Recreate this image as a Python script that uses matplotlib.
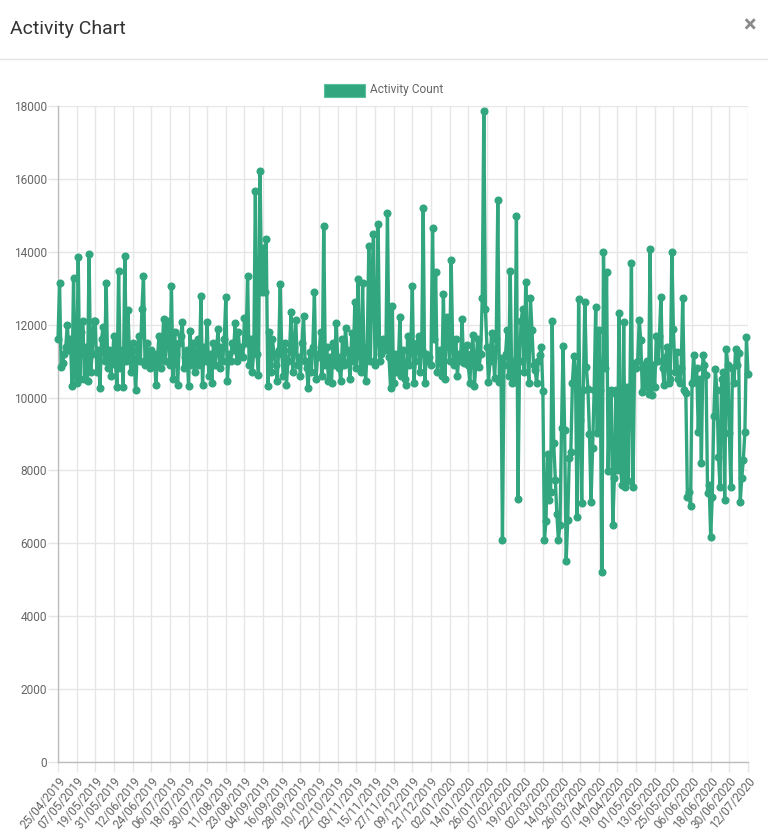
import numpy as np
import pandas as pd
import matplotlib
matplotlib.use("Agg")
import matplotlib.pyplot as plt
from matplotlib.patches import Rectangle
from matplotlib.lines import Line2D

plt.rcParams['font.family'] = ['Roboto', 'DejaVu Sans']

# daily activity counts, 25/04/2019 .. 12/07/2020
start_date = "2019-04-25"
end_date = "2020-07-12"
activity = [
    11600, 13140, 10850, 10950, 11200, 11400, 12000, 11300, 11600, 10320, 13280, 10600,
    10400, 13860, 10500, 11800, 12100, 10500, 11400, 10450, 13940, 10700, 11200, 12100,
    12100, 10700, 11300, 10260, 11600, 11940, 11000, 13140, 10800, 11300, 10600, 11100,
    11700, 10900, 10300, 13470, 10800, 11300, 10300, 13880, 11000, 12400, 11200, 10700,
    11500, 11000, 10200, 11300, 11700, 11000, 12430, 13340, 10900, 11500, 11000, 10800,
    11300, 10900, 11200, 10340, 11100, 11700, 10800, 11300, 12160, 11000, 12100, 11600,
    10900, 13060, 10500, 11800, 11200, 10350, 11500, 11700, 12070, 10800, 11100, 11300,
    10330, 11830, 10900, 11500, 10700, 11200, 11600, 10900, 12790, 10340, 11400, 11000,
    12070, 10600, 11200, 10400, 11500, 10900, 11300, 11880, 10800, 11400, 11000, 11600,
    12760, 10450, 11200, 11000, 11500, 11300, 12040, 11000, 11800, 11200, 11400, 11100,
    12190, 11500, 13340, 10900, 11600, 10700, 11300, 15680, 11200, 10620, 16230, 12900,
    14100, 12900, 14350, 10320, 11800, 10700, 11600, 11200, 10900, 10450, 11300, 13120,
    11200, 10600, 11500, 10350, 11000, 11300, 12350, 10700, 11400, 12130, 10900, 11100,
    10600, 11500, 12240, 11000, 10800, 10250, 11260, 10700, 11400, 12900, 10500, 11100,
    11200, 11810, 10600, 14720, 10900, 11400, 10450, 11100, 10400, 11500, 10900, 12040,
    11100, 10800, 10450, 11600, 10900, 11900, 11300, 11000, 10500, 11780, 11000, 12630,
    10800, 13250, 11200, 10700, 13150, 11000, 10450, 11400, 14160, 11000, 13200, 14500,
    10900, 11600, 14760, 11000, 11200, 11610, 11400, 11300, 15060, 11100, 10260, 12500,
    10400, 11200, 10700, 10900, 12220, 10600, 11300, 10500, 10350, 11700, 10900, 11300,
    13060, 10400, 11000, 11500, 11700, 10700, 11300, 15200, 10400, 11200, 11000, 11100,
    10900, 14650, 11600, 13450, 10700, 11000, 11300, 10600, 12840, 10500, 12220, 11800,
    11000, 13770, 11300, 10900, 11600, 10600, 11200, 11000, 12150, 10950, 11100, 11440,
    10900, 10400, 11200, 11720, 10320, 11000, 11610, 10840, 11200, 12740, 17860, 12420,
    11400, 10440, 11000, 11770, 11200, 10530, 11600, 15420, 10440, 11080, 6090, 10900,
    11200, 11850, 10600, 13480, 10400, 11000, 10440, 14990, 7220, 11000, 12110, 12430,
    10700, 13180, 11300, 10400, 12730, 11850, 10900, 10760, 10400, 11000, 11170, 11400,
    10190, 6090, 6600, 8450, 7190, 7400, 12100, 8750, 7740, 6800, 6090, 6500,
    9160, 11420, 9100, 5520, 6640, 8340, 8510, 10400, 11140, 10600, 6730, 12700,
    9380, 7100, 10200, 12630, 10840, 10230, 9000, 7140, 8610, 10200, 12480, 9030,
    11850, 10200, 5220, 13990, 10800, 13450, 7990, 10100, 10200, 6500, 7790, 10200,
    8000, 12330, 8010, 7600, 12080, 7550, 10300, 7700, 10200, 13700, 7550, 10950,
    10800, 11000, 12130, 11580, 10160, 10900, 10300, 11000, 10100, 14070, 10070, 10900,
    10300, 11690, 11000, 11700, 12770, 10800, 10340, 11100, 11400, 10400, 10500, 14000,
    11880, 10700, 11240, 10500, 10400, 10800, 12720, 10200, 10120, 7270, 7400, 7020,
    10400, 11170, 10430, 10800, 9060, 10500, 8200, 11170, 10900, 10620, 7370, 7600,
    6170, 7270, 9500, 10770, 10200, 8380, 7550, 10500, 10710, 7190, 11330, 10900,
    9030, 7550, 10800, 10400, 11330, 10900, 11210, 7140, 7800, 8290, 9060, 11650,
    10650,
]
dates = pd.date_range(start_date, end_date, freq="D")
labels = [d.strftime("%d/%m/%Y") for d in dates]
y_ticks = list(range(0, 18001, 2000))

green = '#32a77f'
txt = '#666666'
grid = '#e6e6e6'

fig = plt.figure(figsize=(7.68, 8.33), dpi=100)

# modal header
fig.text(10/768, 1-29/833, 'Activity Chart', fontsize=14, color='#333333', va='center', ha='left')
fig.text(750/768, 1-26/833, '\u00d7', fontsize=17, color='#8a8a8a', fontweight='bold', va='center', ha='center')
fig.add_artist(Line2D([0, 1], [1-59/833, 1-59/833], color='#e5e5e5', lw=1))

# legend
fig.add_artist(Rectangle((324/768, 1-97/833), 41/768, 13/833, facecolor=green, edgecolor='#5cc09c', lw=0.8))
fig.text(370/768, 1-90/833, 'Activity Count', fontsize=8.6, color=txt, va='center', ha='left')

ax = fig.add_axes([58/768, 1-762/833, 690/768, 656/833])
x = np.arange(len(activity))
ax.plot(x, activity, color=green, lw=2.4, marker='o', markersize=4.8, zorder=3, clip_on=False)

ax.set_xlim(0, len(activity) - 1)
ax.set_ylim(0, 18000)
ax.set_yticks(y_ticks)
ax.set_yticklabels([str(v) for v in y_ticks])
xt = x[::12]
ax.set_xticks(xt)
ax.set_xticklabels([labels[i] for i in xt], rotation=50, ha='right', rotation_mode='anchor')

ax.grid(True, color=grid, lw=1)
ax.set_axisbelow(True)
ax.tick_params(axis='both', colors=grid, labelcolor=txt, labelsize=8.6, length=7, width=1)
ax.tick_params(axis='y', pad=1)
ax.tick_params(axis='x', pad=2)
for s in ['top', 'right']:
    ax.spines[s].set_visible(False)
for s in ['left', 'bottom']:
    ax.spines[s].set_color('#bdbdbd')
    ax.spines[s].set_linewidth(1)

fig.savefig('out.png', dpi=100)
